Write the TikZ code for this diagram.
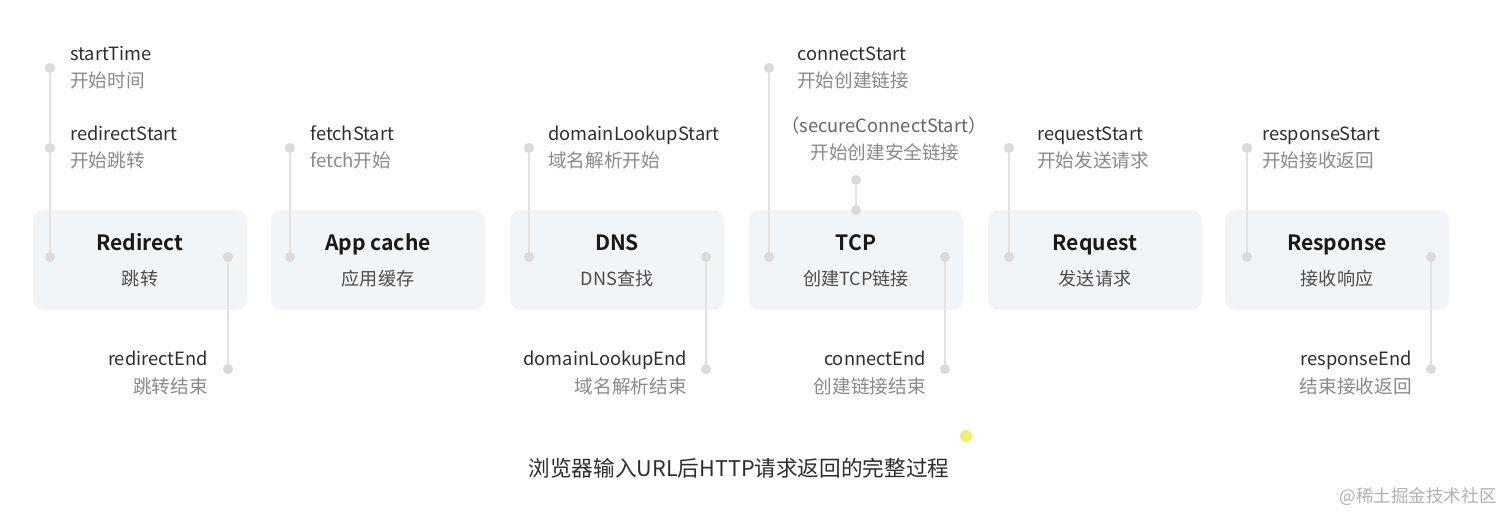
\documentclass[tikz,border=0pt]{standalone}
\usepackage{fontspec}
\setmainfont{Noto Sans CJK SC}[BoldFont={Noto Sans CJK SC Bold}]
\usetikzlibrary{positioning}

\definecolor{boxfill}{HTML}{F2F5F8}
\definecolor{dotgray}{HTML}{DADADA}
\definecolor{linegray}{HTML}{E3E3E3}
\definecolor{engray}{HTML}{2E2E2E}
\definecolor{cngray}{HTML}{8A8A8A}
\definecolor{markyellow}{HTML}{F0F06A}

\tikzset{
	stage/.style={fill=boxfill, rounded corners=6pt, minimum height=2cm, inner sep=0pt},
	title/.style={font=\fontsize{12}{14}\selectfont\bfseries, text=black!90, inner sep=0pt, anchor=base},
	sub/.style={font=\fontsize{10.3}{12}\selectfont, text=black!70, inner sep=0pt},
	tdot/.style={circle, fill=dotgray, inner sep=0pt, minimum size=0.2cm},
	tline/.style={draw=linegray, line width=1.1pt},
	ename/.style={font=\fontsize{10.4}{12}\selectfont, text=engray, inner sep=0pt},
	cname/.style={font=\fontsize{10.6}{12}\selectfont, text=cngray, inner sep=0pt},
}

\begin{document}
\begin{tikzpicture}[x=0.02cm, y=-0.02cm]
		\useasboundingbox[fill=white] (0,0) rectangle (1512,514);

		% stages
		\foreach \n/\cx/\w/\t/\s in {redir/140/214/Redirect/跳转, appc/378/214/App cache/应用缓存,
				dns/617/214/DNS/DNS查找, tcp/856/214/TCP/创建TCP链接,
				req/1095/214/Request/发送请求, resp/1337/224/Response/接收响应}
		{
			\node[stage, minimum width=\w*0.02cm] (\n) at (\cx,260) {};
			\node[title] (\n-t) at (\cx,250) {\t};
			\node[sub] (\n-s) at (\cx,279) {\s};
		}

		% redirect
		\node[tdot] (st) at (50,68) {};
		\node[tdot] (rs) at (50,148) {};
		\node[tdot] (rl) at (50,257) {};
		\node[tdot] (rr) at (228,257) {};
		\node[tdot] (re) at (228,369) {};
		\draw[tline] (st) -- (rs);
		\draw[tline] (rs) -- (rl);
		\draw[tline] (rr) -- (re);
		\node[ename, anchor=base west] (st-e) at (70,60) {startTime};
		\node[cname, anchor=west] (st-c) at (70,80) {开始时间};
		\node[ename, anchor=base west] (rs-e) at (70,140) {redirectStart};
		\node[cname, anchor=west] (rs-c) at (70,160) {开始跳转};
		\node[ename, anchor=base east] (re-e) at (208,365) {redirectEnd};
		\node[cname, anchor=east] (re-c) at (208,386) {跳转结束};

		% app cache
		\node[tdot] (fs) at (290,148) {};
		\node[tdot] (al) at (290,257) {};
		\draw[tline] (fs) -- (al);
		\node[ename, anchor=base west] (fs-e) at (310,140) {fetchStart};
		\node[cname, anchor=west] (fs-c) at (310,160) {fetch开始};

		% dns
		\node[tdot] (ds) at (529,148) {};
		\node[tdot] (dl) at (529,257) {};
		\node[tdot] (dr) at (706,257) {};
		\node[tdot] (de) at (706,369) {};
		\draw[tline] (ds) -- (dl);
		\draw[tline] (dr) -- (de);
		\node[ename, anchor=base west] (ds-e) at (548,140) {domainLookupStart};
		\node[cname, anchor=west] (ds-c) at (548,160) {域名解析开始};
		\node[ename, anchor=base east] (de-e) at (687,365) {domainLookupEnd};
		\node[cname, anchor=east] (de-c) at (687,386) {域名解析结束};

		% tcp
		\node[tdot] (cs) at (769,68) {};
		\node[tdot] (tl) at (769,257) {};
		\node[tdot] (ss) at (856,180) {};
		\node[tdot] (tt) at (856,210) {};
		\node[tdot] (tr) at (945,257) {};
		\node[tdot] (ce) at (945,369) {};
		\draw[tline] (cs) -- (tl);
		\draw[tline] (ss) -- (tt);
		\draw[tline] (tr) -- (ce);
		\node[ename, anchor=base west] (cs-e) at (797,60) {connectStart};
		\node[cname, anchor=west] (cs-c) at (797,80) {开始创建链接};
		\node[ename, text=black!60, anchor=base] (ss-e) at (884,132) {（secureConnectStart）};
		\node[cname] (ss-c) at (885,152) {开始创建安全链接};
		\node[ename, anchor=base east] (ce-e) at (926,365) {connectEnd};
		\node[cname, anchor=east] (ce-c) at (926,386) {创建链接结束};

		% request
		\node[tdot] (qs) at (1009,148) {};
		\node[tdot] (ql) at (1009,257) {};
		\draw[tline] (qs) -- (ql);
		\node[ename, anchor=base west] (qs-e) at (1037,140) {requestStart};
		\node[cname, anchor=west] (qs-c) at (1037,160) {开始发送请求};

		% response
		\node[tdot] (ps) at (1247,148) {};
		\node[tdot] (pl) at (1247,257) {};
		\node[tdot] (pr) at (1431,257) {};
		\node[tdot] (pe) at (1431,369) {};
		\draw[tline] (ps) -- (pl);
		\draw[tline] (pr) -- (pe);
		\node[ename, anchor=base west] (ps-e) at (1262,140) {responseStart};
		\node[cname, anchor=west] (ps-c) at (1262,160) {开始接收返回};
		\node[ename, anchor=base east] (pe-e) at (1412,365) {responseEnd};
		\node[cname, anchor=east] (pe-c) at (1412,386) {结束接收返回};

		% caption and mark
		\fill[markyellow] (966,436) circle (6);
		\node[font=\fontsize{12.3}{14}\selectfont, text=engray, inner sep=0pt] (cap) at (739,468) {浏览器输入URL后HTTP请求返回的完整过程};
		\node[font=\fontsize{10}{12}\selectfont, text=black!30, inner sep=0pt, anchor=east] (wm) at (1497,497) {@稀土掘金技术社区};
	\end{tikzpicture}
\end{document}
